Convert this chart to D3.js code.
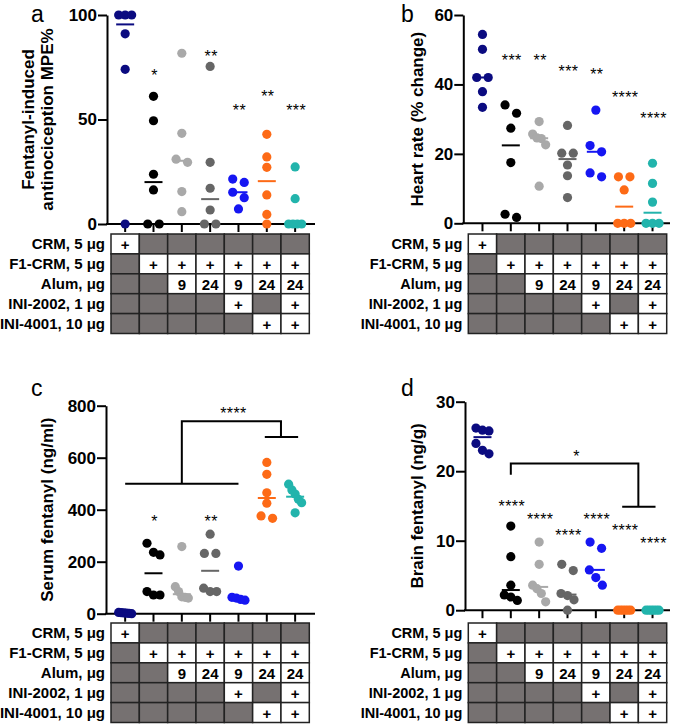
<!DOCTYPE html>
<html><head><meta charset="utf-8">
<script src="https://cdn.jsdelivr.net/npm/d3@7"></script>
<style>body{margin:0;background:#fff}svg{display:block;font-family:"Liberation Sans",Arial,sans-serif}</style>
</head><body>
<svg id="chart" width="675" height="724"></svg>
<script>
// ---------- data ----------
const groups = ["CRM", "F1-CRM", "F1-CRM+Alum 9", "F1-CRM+Alum 24", "F1-CRM+Alum 9+INI-2002", "F1-CRM+Alum 24+INI-4001", "F1-CRM+Alum 24+INI-2002+INI-4001"];
const groupColors = ["#0b0b80", "#000000", "#a9a9a9", "#666666", "#1616f2", "#fd6a16", "#22b4ac"];

const rowLabels = ["CRM, 5 μg", "F1-CRM, 5 μg", "Alum, μg", "INI-2002, 1 μg", "INI-4001, 10 μg"];
const tableCells = [
  ["+", "", "", "", "", "", ""],
  ["", "+", "+", "+", "+", "+", "+"],
  ["", "", "9", "24", "9", "24", "24"],
  ["", "", "", "", "+", "", "+"],
  ["", "", "", "", "", "+", "+"]
];

// a: antinociception MPE%
const mpeValues = [
  [100, 100, 100, 91, 74, 0],
  [61.1, 49.4, 23.8, 16.3, 0, 0],
  [81.7, 43.4, 31, 29.5, 15.5, 5.9],
  [75.4, 29.5, 17.1, 6.7, 0, 0],
  [21.5, 19.9, 15.2, 12.6, 7.2],
  [42.9, 32.1, 27.1, 13.9, 4.6, 0],
  [27.3, 12.1, 0, 0, 0, 0]
];
const mpeStars = ["", "*", "", "**", "**", "**", "***"];
const mpeStarY = [null, 72.7, null, 81.8, 56, 62.7, 56];
const mpeTicks = [0, 50, 100];

// b: heart rate
const hrValues = [
  [54.4, 50.1, 42, 42, 37.9, 33.4],
  [34.1, 31.7, 27.4, 17.5, 2.6, 1.7],
  [29.3, 25.7, 24.6, 24.4, 22.6, 10.7],
  [28.2, 20.2, 20.2, 16.8, 13.7, 7.4],
  [32.6, 22.4, 20.6, 14.5, 13.4],
  [13.4, 13.4, 9.6, 0, 0, 0],
  [17.3, 11.5, 6.1, 0, 0, 0]
];
const hrStars = ["", "***", "**", "***", "**", "****", "****"];
const hrStarY = [null, 47.8, 47.8, 44.8, 44, 37.3, 31.2];
const hrTicks = [0, 20, 40, 60];

// c: serum fentanyl
const serumValues = [
  [5, 4, 3, 2, 1, 0],
  [271, 236, 226, 85, 72, 72],
  [258, 104, 85, 65, 63, 60],
  [306, 232, 232, 98, 85, 85],
  [183, 63, 60, 55, 52],
  [582, 536, 465, 425, 376, 367],
  [498, 476, 460, 440, 427, 388]
];
const serumStars = ["", "*", "", "**", "", "", ""];
const serumStarY = [null, 367, null, 367, null, null, null];
const serumTicks = [0, 200, 400, 600, 800];
const serumBracket = {left: [0, 4], leftY: 500, right: [5, 6], rightY: 680, topY: 740, label: "****"};

// d: brain fentanyl
const brainValues = [
  [26.2, 25.9, 25.8, 24.0, 23.0, 22.5],
  [12.1, 7.7, 3.6, 2.2, 1.9, 1.4],
  [9.8, 6.6, 3.6, 3.1, 2.4, 1.2],
  [6.6, 5.7, 2.4, 2.1, 1.5, 0],
  [9.8, 8.9, 5.8, 4.7, 3.6],
  [0, 0, 0, 0, 0, 0],
  [0, 0, 0, 0, 0, 0]
];
const brainStars = ["", "****", "****", "****", "****", "****", "****"];
const brainStarY = [null, 15.4, 13.5, 11.3, 13.6, 12.0, 10.1];
const brainTicks = [0, 10, 20, 30];
const brainBracket = {left: [1, 1], leftY: 19.5, right: [5, 6], rightY: 14.9, topY: 21.1, label: "*"};

// ---------- drawing ----------
const svg = d3.select("#chart");
const R = 4.6;

function swarmOffsets(vals, y) {
  // cluster points whose pixel positions overlap, spread them side by side
  const idx = vals.map((v, i) => i).sort((a, b) => vals[b] - vals[a]);
  const off = new Array(vals.length).fill(0);
  let clusters = [], cur = [];
  idx.forEach((i, k) => {
    if (k > 0 && Math.abs(y(vals[i]) - y(vals[idx[k - 1]])) >= 2 * R) { clusters.push(cur); cur = []; }
    cur.push(i);
  });
  if (cur.length) clusters.push(cur);
  clusters.forEach(c => {
    const n = c.length;
    if (n < 2) return;
    const w = n === 2 ? 11.5 : 13;
    c.forEach((i, k) => { off[i] = -w / 2 + w * k / (n - 1); });
  });
  return off;
}

function panel(cfg) {
  const g = svg.append("g");
  const x = d3.scaleBand().domain(groups).range([cfg.tableLeft, cfg.tableRight]);
  const y = d3.scaleLinear().domain([0, cfg.yMax]).range([cfg.y0, cfg.yTop]);
  const cx = i => x(groups[i]) + x.bandwidth() / 2;

  // y axis
  const ya = g.append("g").attr("transform", `translate(${cfg.axisX},0)`)
    .call(d3.axisLeft(y).tickValues(cfg.ticks).tickSize(9).tickSizeOuter(0).tickPadding(1).tickFormat(d3.format("d")));
  ya.select(".domain").attr("stroke", "#000").attr("stroke-width", 2);
  ya.selectAll(".tick line").attr("stroke", "#000").attr("stroke-width", 2);
  ya.selectAll(".tick text").attr("font-size", 17).attr("font-weight", "bold").attr("fill", "#000")
    .attr("font-family", "Liberation Sans, Arial, sans-serif");

  // x axis
  const xa = g.append("g").attr("transform", `translate(0,${cfg.y0})`)
    .call(d3.axisBottom(x).tickSize(8).tickSizeOuter(0).tickFormat(""));
  xa.select(".domain").remove();
  xa.selectAll(".tick line").attr("stroke", "#000").attr("stroke-width", 2);
  g.append("line").attr("x1", cfg.axisX - 1).attr("x2", cfg.axisRight).attr("y1", cfg.y0).attr("y2", cfg.y0)
    .attr("stroke", "#000").attr("stroke-width", 2);

  // y label
  cfg.yLabel.forEach((t, k) => {
    g.append("text").attr("transform", `translate(${cfg.yLabelX[k]},${(cfg.y0 + cfg.yTop) / 2}) rotate(-90)`)
      .attr("text-anchor", "middle").attr("dominant-baseline", "central")
      .attr("font-size", 17).attr("font-weight", "bold").text(t);
  });

  // panel letter
  g.append("text").attr("x", cfg.letterX).attr("y", cfg.letterY).attr("font-size", 23).text(cfg.letter);

  // bracket
  if (cfg.bracket) {
    const b = cfg.bracket;
    const lx1 = cx(b.left[0]), lx2 = cx(b.left[1]);
    const rx1 = cx(b.right[0]) - 2, rx2 = cx(b.right[1]) + 3;
    const lm = (cx(b.left[0]) + cx(b.left[1])) / 2, rm = (cx(b.right[0]) + cx(b.right[1])) / 2;
    const path = d3.path();
    if (b.left[0] !== b.left[1]) { path.moveTo(lx1, y(b.leftY)); path.lineTo(lx2, y(b.leftY)); }
    path.moveTo(lm, y(b.leftY)); path.lineTo(lm, y(b.topY)); path.lineTo(rm, y(b.topY)); path.lineTo(rm, y(b.rightY));
    path.moveTo(rx1, y(b.rightY)); path.lineTo(rx2, y(b.rightY));
    g.append("path").attr("d", path.toString()).attr("fill", "none").attr("stroke", "#000").attr("stroke-width", 2);
    g.append("text").attr("x", (lm + rm) / 2 + 2).attr("y", y(b.topY) - 2).attr("text-anchor", "middle")
      .attr("font-size", 16).attr("letter-spacing", 0.4).text(b.label);
  }

  // dots + medians
  cfg.values.forEach((vals, i) => {
    const off = swarmOffsets(vals, y);
    g.append("g").selectAll("circle").data(vals).join("circle")
      .attr("cx", (d, k) => cx(i) + off[k]).attr("cy", d => y(d)).attr("r", R)
      .attr("fill", groupColors[i]);
    const m = d3.median(vals);
    g.append("line").attr("x1", cx(i) - 9).attr("x2", cx(i) + 9).attr("y1", y(m)).attr("y2", y(m))
      .attr("stroke", groupColors[i]).attr("stroke-width", 2);
  });

  // stars
  cfg.stars.forEach((s, i) => {
    if (!s) return;
    g.append("text").attr("x", cx(i) + 1).attr("y", y(cfg.starY[i]) + 9).attr("text-anchor", "middle")
      .attr("font-size", 16).attr("letter-spacing", 0.4).text(s);
  });

  // table
  const rowH = cfg.rowH;
  const tb = g.append("g");
  tableCells.forEach((row, r) => {
    const ty = cfg.tableTop + r * rowH;
    tb.append("text").attr("x", cfg.tableLeft - 6).attr("y", ty + rowH / 2).attr("text-anchor", "end")
      .attr("dominant-baseline", "central").attr("font-size", cfg.labelSize).attr("font-weight", "bold").text(rowLabels[r]);
    row.forEach((c, k) => {
      tb.append("rect").attr("x", x(groups[k])).attr("y", ty).attr("width", x.bandwidth()).attr("height", rowH)
        .attr("fill", c === "" ? "#767171" : "#fff").attr("stroke", "#222").attr("stroke-width", 1.5);
      if (c !== "") {
        tb.append("text").attr("x", cx(k)).attr("y", ty + rowH / 2 + 1).attr("text-anchor", "middle")
          .attr("dominant-baseline", "central").attr("font-size", 15).attr("font-weight", "bold").text(c);
      }
    });
  });
}

panel({letter: "a", letterX: 31, letterY: 22, values: mpeValues, stars: mpeStars, starY: mpeStarY, ticks: mpeTicks,
  yMax: 100, axisX: 107, y0: 224, yTop: 15, tableLeft: 111, tableRight: 309.3, axisRight: 315,
  tableTop: 234, rowH: 19.9, labelSize: 15,
  yLabel: ["Fentanyl-induced", "antinociception MPE%"], yLabelX: [28, 47]});

panel({letter: "b", letterX: 401, letterY: 22, values: hrValues, stars: hrStars, starY: hrStarY, ticks: hrTicks,
  yMax: 60, axisX: 463.3, y0: 223.3, yTop: 15, tableLeft: 468.3, tableRight: 666.7, axisRight: 670,
  tableTop: 234, rowH: 19.9, labelSize: 14.5,
  yLabel: ["Heart rate (% change)"], yLabelX: [417]});

panel({letter: "c", letterX: 31, letterY: 396, values: serumValues, stars: serumStars, starY: serumStarY, ticks: serumTicks,
  yMax: 800, axisX: 106, y0: 613.7, yTop: 405.7, tableLeft: 111, tableRight: 309.3, axisRight: 315,
  tableTop: 623, rowH: 19.9, labelSize: 15, bracket: serumBracket,
  yLabel: ["Serum fentanyl (ng/ml)"], yLabelX: [47]});

panel({letter: "d", letterX: 401, letterY: 396, values: brainValues, stars: brainStars, starY: brainStarY, ticks: brainTicks,
  yMax: 30, axisX: 465, y0: 610.2, yTop: 401.7, tableLeft: 468.3, tableRight: 666.7, axisRight: 670,
  tableTop: 623, rowH: 19.9, labelSize: 14.5, bracket: brainBracket,
  yLabel: ["Brain fentanyl (ng/g)"], yLabelX: [417]});
</script>
</body></html>
